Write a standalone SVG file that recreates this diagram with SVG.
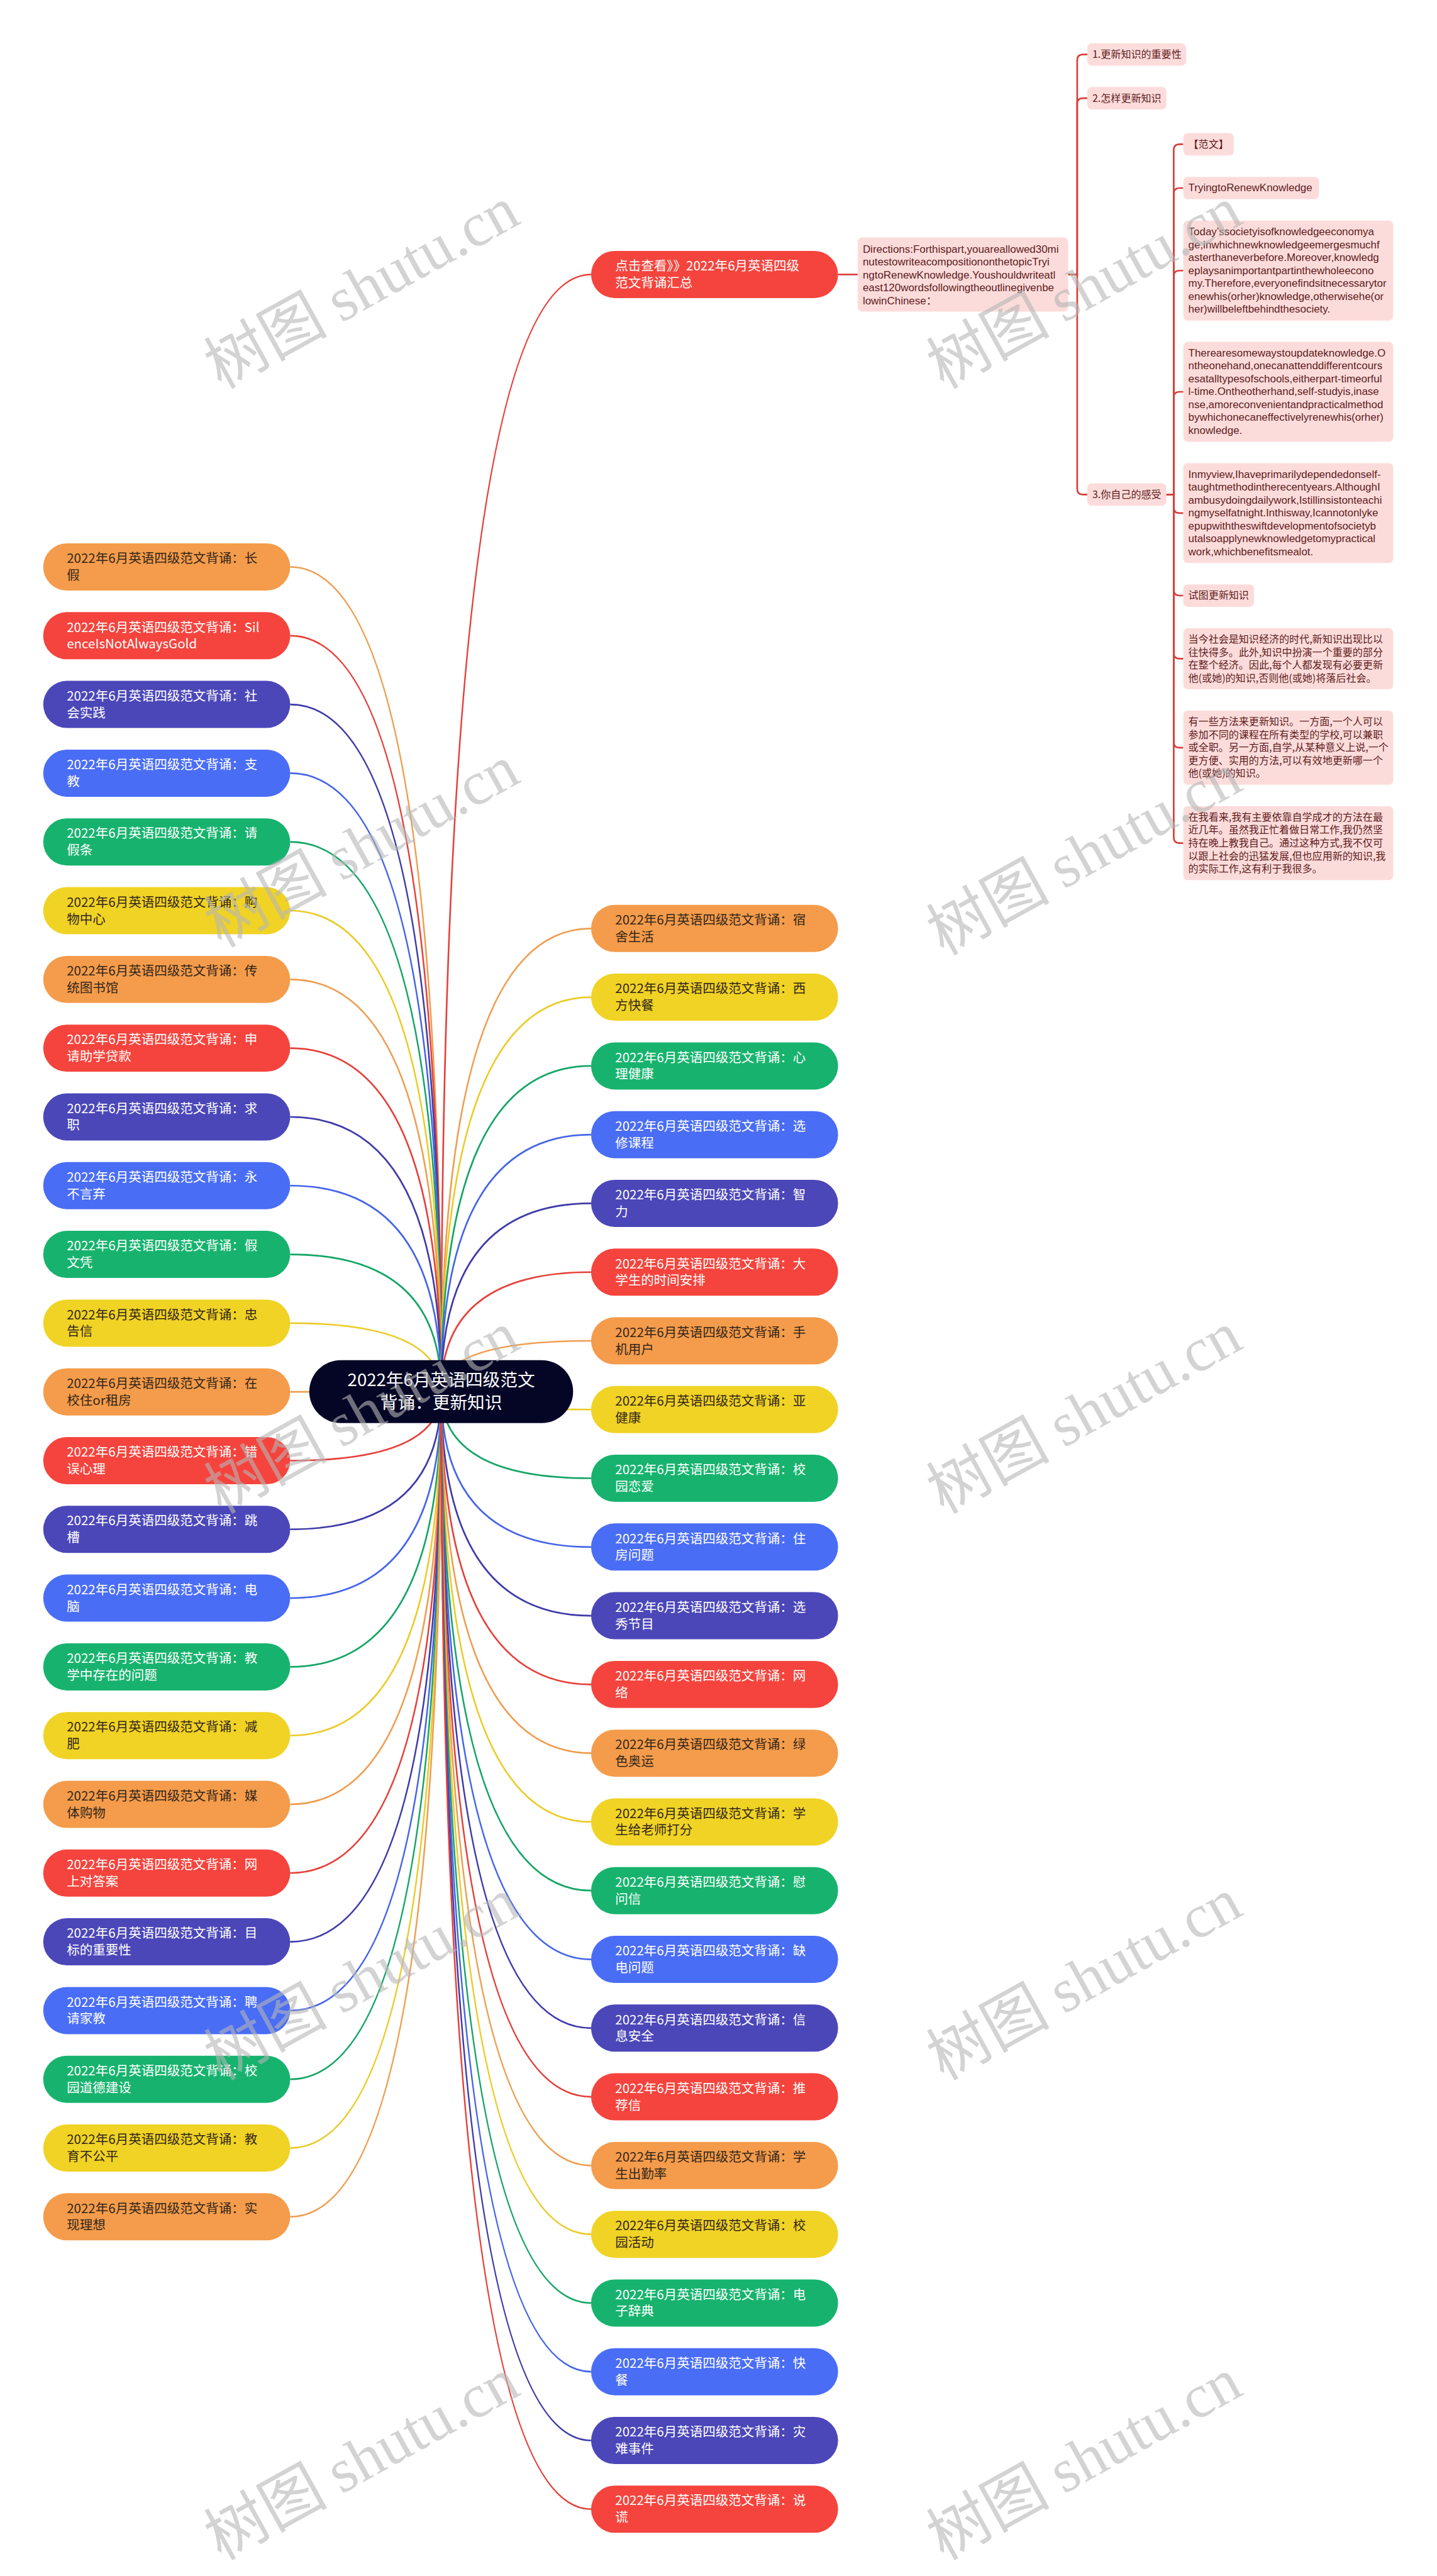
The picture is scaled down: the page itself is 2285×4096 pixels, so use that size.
<svg xmlns="http://www.w3.org/2000/svg" width="2285" height="4096" viewBox="0 0 2285 4096">
<style>
.lbl{font-family:"Noto Sans CJK SC","Liberation Sans",sans-serif;font-size:23px}
.dk{fill:#33261a}
.wt{fill:#ffffff}
.fo{fill:#F49C4B}.fr{fill:#F5443D}.fi{fill:#4B47B8}.fb{fill:#4A6DF5}.fg{fill:#17B36E}.fy{fill:#F0D324}
.cn{fill:none;stroke-width:3}
.so{stroke:#EE9E50}.sr{stroke:#E5403A}.si{stroke:#3F3BA8}.sb{stroke:#4565E8}.sg{stroke:#16A566}.sy{stroke:#EBCB28}
.pb{fill:#FCDCDB}
.pt{fill:#5E1B1B;font-size:18px;font-family:"Noto Sans CJK SC",sans-serif}
.pl{fill:#5E1B1B;font-size:19px;font-family:"Liberation Sans","Noto Sans CJK SC",sans-serif}
.sc{fill:none;stroke:#D8403A;stroke-width:3}
.wm{font-family:"Noto Sans CJK SC",sans-serif;font-size:110px;fill:#b6b6b6;opacity:0.6}
.wms{font-family:"Liberation Serif",serif}
</style>
<rect width="2285" height="4096" fill="#ffffff"/>
<g transform="scale(0.89258)">
<g id="connectors">
<path class="cn sr" d="M1053 489Q786 489 786 2479"/>
<path class="cn so" d="M517 1010Q786 1010 786 2479"/>
<path class="cn sr" d="M517 1132.5Q786 1132.5 786 2479"/>
<path class="cn si" d="M517 1254.9Q786 1254.9 786 2479"/>
<path class="cn sb" d="M517 1377.4Q786 1377.4 786 2479"/>
<path class="cn sg" d="M517 1499.8Q786 1499.8 786 2479"/>
<path class="cn sy" d="M517 1622.3Q786 1622.3 786 2479"/>
<path class="cn so" d="M517 1744.8Q786 1744.8 786 2479"/>
<path class="cn sr" d="M517 1867.2Q786 1867.2 786 2479"/>
<path class="cn si" d="M517 1989.7Q786 1989.7 786 2479"/>
<path class="cn sb" d="M517 2112.1Q786 2112.1 786 2479"/>
<path class="cn sg" d="M517 2234.6Q786 2234.6 786 2479"/>
<path class="cn sy" d="M517 2357.1Q786 2357.1 786 2479"/>
<path class="cn so" d="M517 2479.5Q786 2479.5 786 2479"/>
<path class="cn sr" d="M517 2602Q786 2602 786 2479"/>
<path class="cn si" d="M517 2724.4Q786 2724.4 786 2479"/>
<path class="cn sb" d="M517 2846.9Q786 2846.9 786 2479"/>
<path class="cn sg" d="M517 2969.4Q786 2969.4 786 2479"/>
<path class="cn sy" d="M517 3091.8Q786 3091.8 786 2479"/>
<path class="cn so" d="M517 3214.3Q786 3214.3 786 2479"/>
<path class="cn sr" d="M517 3336.7Q786 3336.7 786 2479"/>
<path class="cn si" d="M517 3459.2Q786 3459.2 786 2479"/>
<path class="cn sb" d="M517 3581.7Q786 3581.7 786 2479"/>
<path class="cn sg" d="M517 3704.1Q786 3704.1 786 2479"/>
<path class="cn sy" d="M517 3826.6Q786 3826.6 786 2479"/>
<path class="cn so" d="M517 3949Q786 3949 786 2479"/>
<path class="cn so" d="M1053 1654Q786 1654 786 2479"/>
<path class="cn sy" d="M1053 1776.4Q786 1776.4 786 2479"/>
<path class="cn sg" d="M1053 1898.9Q786 1898.9 786 2479"/>
<path class="cn sb" d="M1053 2021.3Q786 2021.3 786 2479"/>
<path class="cn si" d="M1053 2143.7Q786 2143.7 786 2479"/>
<path class="cn sr" d="M1053 2266.2Q786 2266.2 786 2479"/>
<path class="cn so" d="M1053 2388.6Q786 2388.6 786 2479"/>
<path class="cn sy" d="M1053 2511Q786 2511 786 2479"/>
<path class="cn sg" d="M1053 2633.4Q786 2633.4 786 2479"/>
<path class="cn sb" d="M1053 2755.9Q786 2755.9 786 2479"/>
<path class="cn si" d="M1053 2878.3Q786 2878.3 786 2479"/>
<path class="cn sr" d="M1053 3000.7Q786 3000.7 786 2479"/>
<path class="cn so" d="M1053 3123.2Q786 3123.2 786 2479"/>
<path class="cn sy" d="M1053 3245.6Q786 3245.6 786 2479"/>
<path class="cn sg" d="M1053 3368Q786 3368 786 2479"/>
<path class="cn sb" d="M1053 3490.5Q786 3490.5 786 2479"/>
<path class="cn si" d="M1053 3612.9Q786 3612.9 786 2479"/>
<path class="cn sr" d="M1053 3735.3Q786 3735.3 786 2479"/>
<path class="cn so" d="M1053 3857.7Q786 3857.7 786 2479"/>
<path class="cn sy" d="M1053 3980.2Q786 3980.2 786 2479"/>
<path class="cn sg" d="M1053 4102.6Q786 4102.6 786 2479"/>
<path class="cn sb" d="M1053 4225Q786 4225 786 2479"/>
<path class="cn si" d="M1053 4347.5Q786 4347.5 786 2479"/>
<path class="cn sr" d="M1053 4469.9Q786 4469.9 786 2479"/>
<path class="sc" d="M1493 489H1528"/>
<path class="sc" d="M1903 489H1919V107Q1919 97 1929 97H1937"/>
<path class="sc" d="M1903 489H1919V185Q1919 175 1929 175H1937"/>
<path class="sc" d="M1903 489H1919V871Q1919 881 1929 881H1937"/>
<path class="sc" d="M2078 881H2091V267Q2091 257 2101 257H2108"/>
<path class="sc" d="M2078 881H2091V345Q2091 335 2101 335H2108"/>
<path class="sc" d="M2078 881H2091V492Q2091 482 2101 482H2108"/>
<path class="sc" d="M2078 881H2091V708Q2091 698 2101 698H2108"/>
<path class="sc" d="M2078 881H2091V904Q2091 914 2101 914H2108"/>
<path class="sc" d="M2078 881H2091V1051Q2091 1061 2101 1061H2108"/>
<path class="sc" d="M2078 881H2091V1163.5Q2091 1173.5 2101 1173.5H2108"/>
<path class="sc" d="M2078 881H2091V1322Q2091 1332 2101 1332H2108"/>
<path class="sc" d="M2078 881H2091V1492Q2091 1502 2101 1502H2108"/>
</g>
<g id="root"><rect x="551" y="2423" width="470" height="112" rx="56" fill="#050626"/><text class="wt" x="786" y="2469" text-anchor="middle" font-family="Noto Sans CJK SC,sans-serif" font-size="31">2022年6月英语四级范文</text><text class="wt" x="786" y="2510" text-anchor="middle" font-family="Noto Sans CJK SC,sans-serif" font-size="31">背诵：更新知识</text></g>
<g id="top-link"><rect class="fr" x="1053" y="447" width="440" height="84" rx="42"/><text class="lbl wt" x="1096" y="482">点击查看》》2022年6月英语四级</text><text class="lbl wt" x="1096" y="512">范文背诵汇总</text></g>
<g id="directions"><rect class="pb" x="1528" y="423" width="375" height="132" rx="8"/><text class="pl" x="1537" y="450">Directions:Forthispart,youareallowed30mi</text><text class="pl" x="1537" y="473">nutestowriteacompositiononthetopicTryi</text><text class="pl" x="1537" y="496">ngtoRenewKnowledge.Youshouldwriteatl</text><text class="pl" x="1537" y="519">east120wordsfollowingtheoutlinegivenbe</text><text class="pl" x="1537" y="542">lowinChinese：</text></g>
<g id="o1"><rect class="pb" x="1937" y="77" width="176" height="40" rx="8"/><text class="pt" x="1946" y="103">1.更新知识的重要性</text></g>
<g id="o2"><rect class="pb" x="1937" y="155" width="141" height="40" rx="8"/><text class="pt" x="1946" y="181">2.怎样更新知识</text></g>
<g id="o3"><rect class="pb" x="1937" y="861" width="141" height="40" rx="8"/><text class="pt" x="1946" y="887">3.你自己的感受</text></g>
<g id="s1"><rect class="pb" x="2108" y="237" width="90" height="40" rx="8"/><text class="pt" x="2117" y="263">【范文】</text></g>
<g id="s2"><rect class="pb" x="2108" y="315" width="242" height="40" rx="8"/><text class="pl" x="2117" y="341">TryingtoRenewKnowledge</text></g>
<g id="s3"><rect class="pb" x="2108" y="393" width="374" height="178" rx="8"/><text class="pl" x="2117" y="419">Today’ssocietyisofknowledgeeconomya</text><text class="pl" x="2117" y="442">ge,inwhichnewknowledgeemergesmuchf</text><text class="pl" x="2117" y="465">asterthaneverbefore.Moreover,knowledg</text><text class="pl" x="2117" y="488">eplaysanimportantpartinthewholeecono</text><text class="pl" x="2117" y="511">my.Therefore,everyonefindsitnecessarytor</text><text class="pl" x="2117" y="534">enewhis(orher)knowledge,otherwisehe(or</text><text class="pl" x="2117" y="557">her)willbeleftbehindthesociety.</text></g>
<g id="s4"><rect class="pb" x="2108" y="609" width="374" height="178" rx="8"/><text class="pl" x="2117" y="635">Therearesomewaystoupdateknowledge.O</text><text class="pl" x="2117" y="658">ntheonehand,onecanattenddifferentcours</text><text class="pl" x="2117" y="681">esatalltypesofschools,eitherpart-timeorful</text><text class="pl" x="2117" y="704">l-time.Ontheotherhand,self-studyis,inase</text><text class="pl" x="2117" y="727">nse,amoreconvenientandpracticalmethod</text><text class="pl" x="2117" y="750">bywhichonecaneffectivelyrenewhis(orher)</text><text class="pl" x="2117" y="773">knowledge.</text></g>
<g id="s5"><rect class="pb" x="2108" y="825" width="374" height="178" rx="8"/><text class="pl" x="2117" y="851">Inmyview,Ihaveprimarilydependedonself-</text><text class="pl" x="2117" y="874">taughtmethodintherecentyears.AlthoughI</text><text class="pl" x="2117" y="897">ambusydoingdailywork,Istillinsistonteachi</text><text class="pl" x="2117" y="920">ngmyselfatnight.Inthisway,Icannotonlyke</text><text class="pl" x="2117" y="943">epupwiththeswiftdevelopmentofsocietyb</text><text class="pl" x="2117" y="966">utalsoapplynewknowledgetomypractical</text><text class="pl" x="2117" y="989">work,whichbenefitsmealot.</text></g>
<g id="s6"><rect class="pb" x="2108" y="1041" width="126" height="40" rx="8"/><text class="pt" x="2117" y="1067">试图更新知识</text></g>
<g id="s7"><rect class="pb" x="2108" y="1119" width="374" height="109" rx="8"/><text class="pt" x="2117" y="1145">当今社会是知识经济的时代,新知识出现比以</text><text class="pt" x="2117" y="1168">往快得多。此外,知识中扮演一个重要的部分</text><text class="pt" x="2117" y="1191">在整个经济。因此,每个人都发现有必要更新</text><text class="pt" x="2117" y="1214">他(或她)的知识,否则他(或她)将落后社会。</text></g>
<g id="s8"><rect class="pb" x="2108" y="1266" width="374" height="132" rx="8"/><text class="pt" x="2117" y="1292">有一些方法来更新知识。一方面,一个人可以</text><text class="pt" x="2117" y="1315">参加不同的课程在所有类型的学校,可以兼职</text><text class="pt" x="2117" y="1338">或全职。另一方面,自学,从某种意义上说,一个</text><text class="pt" x="2117" y="1361">更方便、实用的方法,可以有效地更新哪一个</text><text class="pt" x="2117" y="1384">他(或她)的知识。</text></g>
<g id="s9"><rect class="pb" x="2108" y="1436" width="374" height="132" rx="8"/><text class="pt" x="2117" y="1462">在我看来,我有主要依靠自学成才的方法在最</text><text class="pt" x="2117" y="1485">近几年。虽然我正忙着做日常工作,我仍然坚</text><text class="pt" x="2117" y="1508">持在晚上教我自己。通过这种方式,我不仅可</text><text class="pt" x="2117" y="1531">以跟上社会的迅猛发展,但也应用新的知识,我</text><text class="pt" x="2117" y="1554">的实际工作,这有利于我很多。</text></g>
<g id="L01"><rect class="fo" x="77" y="968" width="440" height="84" rx="42"/><text class="lbl dk" x="119" y="1003">2022年6月英语四级范文背诵：长</text><text class="lbl dk" x="119" y="1033">假</text></g>
<g id="L02"><rect class="fr" x="77" y="1090.5" width="440" height="84" rx="42"/><text class="lbl wt" x="119" y="1125.5">2022年6月英语四级范文背诵：Sil</text><text class="lbl wt" x="119" y="1155.5">enceIsNotAlwaysGold</text></g>
<g id="L03"><rect class="fi" x="77" y="1212.9" width="440" height="84" rx="42"/><text class="lbl wt" x="119" y="1247.9">2022年6月英语四级范文背诵：社</text><text class="lbl wt" x="119" y="1277.9">会实践</text></g>
<g id="L04"><rect class="fb" x="77" y="1335.4" width="440" height="84" rx="42"/><text class="lbl wt" x="119" y="1370.4">2022年6月英语四级范文背诵：支</text><text class="lbl wt" x="119" y="1400.4">教</text></g>
<g id="L05"><rect class="fg" x="77" y="1457.8" width="440" height="84" rx="42"/><text class="lbl wt" x="119" y="1492.8">2022年6月英语四级范文背诵：请</text><text class="lbl wt" x="119" y="1522.8">假条</text></g>
<g id="L06"><rect class="fy" x="77" y="1580.3" width="440" height="84" rx="42"/><text class="lbl dk" x="119" y="1615.3">2022年6月英语四级范文背诵：购</text><text class="lbl dk" x="119" y="1645.3">物中心</text></g>
<g id="L07"><rect class="fo" x="77" y="1702.8" width="440" height="84" rx="42"/><text class="lbl dk" x="119" y="1737.8">2022年6月英语四级范文背诵：传</text><text class="lbl dk" x="119" y="1767.8">统图书馆</text></g>
<g id="L08"><rect class="fr" x="77" y="1825.2" width="440" height="84" rx="42"/><text class="lbl wt" x="119" y="1860.2">2022年6月英语四级范文背诵：申</text><text class="lbl wt" x="119" y="1890.2">请助学贷款</text></g>
<g id="L09"><rect class="fi" x="77" y="1947.7" width="440" height="84" rx="42"/><text class="lbl wt" x="119" y="1982.7">2022年6月英语四级范文背诵：求</text><text class="lbl wt" x="119" y="2012.7">职</text></g>
<g id="L10"><rect class="fb" x="77" y="2070.1" width="440" height="84" rx="42"/><text class="lbl wt" x="119" y="2105.1">2022年6月英语四级范文背诵：永</text><text class="lbl wt" x="119" y="2135.1">不言弃</text></g>
<g id="L11"><rect class="fg" x="77" y="2192.6" width="440" height="84" rx="42"/><text class="lbl wt" x="119" y="2227.6">2022年6月英语四级范文背诵：假</text><text class="lbl wt" x="119" y="2257.6">文凭</text></g>
<g id="L12"><rect class="fy" x="77" y="2315.1" width="440" height="84" rx="42"/><text class="lbl dk" x="119" y="2350.1">2022年6月英语四级范文背诵：忠</text><text class="lbl dk" x="119" y="2380.1">告信</text></g>
<g id="L13"><rect class="fo" x="77" y="2437.5" width="440" height="84" rx="42"/><text class="lbl dk" x="119" y="2472.5">2022年6月英语四级范文背诵：在</text><text class="lbl dk" x="119" y="2502.5">校住or租房</text></g>
<g id="L14"><rect class="fr" x="77" y="2560" width="440" height="84" rx="42"/><text class="lbl wt" x="119" y="2595">2022年6月英语四级范文背诵：错</text><text class="lbl wt" x="119" y="2625">误心理</text></g>
<g id="L15"><rect class="fi" x="77" y="2682.4" width="440" height="84" rx="42"/><text class="lbl wt" x="119" y="2717.4">2022年6月英语四级范文背诵：跳</text><text class="lbl wt" x="119" y="2747.4">槽</text></g>
<g id="L16"><rect class="fb" x="77" y="2804.9" width="440" height="84" rx="42"/><text class="lbl wt" x="119" y="2839.9">2022年6月英语四级范文背诵：电</text><text class="lbl wt" x="119" y="2869.9">脑</text></g>
<g id="L17"><rect class="fg" x="77" y="2927.4" width="440" height="84" rx="42"/><text class="lbl wt" x="119" y="2962.4">2022年6月英语四级范文背诵：教</text><text class="lbl wt" x="119" y="2992.4">学中存在的问题</text></g>
<g id="L18"><rect class="fy" x="77" y="3049.8" width="440" height="84" rx="42"/><text class="lbl dk" x="119" y="3084.8">2022年6月英语四级范文背诵：减</text><text class="lbl dk" x="119" y="3114.8">肥</text></g>
<g id="L19"><rect class="fo" x="77" y="3172.3" width="440" height="84" rx="42"/><text class="lbl dk" x="119" y="3207.3">2022年6月英语四级范文背诵：媒</text><text class="lbl dk" x="119" y="3237.3">体购物</text></g>
<g id="L20"><rect class="fr" x="77" y="3294.7" width="440" height="84" rx="42"/><text class="lbl wt" x="119" y="3329.7">2022年6月英语四级范文背诵：网</text><text class="lbl wt" x="119" y="3359.7">上对答案</text></g>
<g id="L21"><rect class="fi" x="77" y="3417.2" width="440" height="84" rx="42"/><text class="lbl wt" x="119" y="3452.2">2022年6月英语四级范文背诵：目</text><text class="lbl wt" x="119" y="3482.2">标的重要性</text></g>
<g id="L22"><rect class="fb" x="77" y="3539.7" width="440" height="84" rx="42"/><text class="lbl wt" x="119" y="3574.7">2022年6月英语四级范文背诵：聘</text><text class="lbl wt" x="119" y="3604.7">请家教</text></g>
<g id="L23"><rect class="fg" x="77" y="3662.1" width="440" height="84" rx="42"/><text class="lbl wt" x="119" y="3697.1">2022年6月英语四级范文背诵：校</text><text class="lbl wt" x="119" y="3727.1">园道德建设</text></g>
<g id="L24"><rect class="fy" x="77" y="3784.6" width="440" height="84" rx="42"/><text class="lbl dk" x="119" y="3819.6">2022年6月英语四级范文背诵：教</text><text class="lbl dk" x="119" y="3849.6">育不公平</text></g>
<g id="L25"><rect class="fo" x="77" y="3907" width="440" height="84" rx="42"/><text class="lbl dk" x="119" y="3942">2022年6月英语四级范文背诵：实</text><text class="lbl dk" x="119" y="3972">现理想</text></g>
<g id="R01"><rect class="fo" x="1053" y="1612" width="440" height="84" rx="42"/><text class="lbl dk" x="1096" y="1647">2022年6月英语四级范文背诵：宿</text><text class="lbl dk" x="1096" y="1677">舍生活</text></g>
<g id="R02"><rect class="fy" x="1053" y="1734.4" width="440" height="84" rx="42"/><text class="lbl dk" x="1096" y="1769.4">2022年6月英语四级范文背诵：西</text><text class="lbl dk" x="1096" y="1799.4">方快餐</text></g>
<g id="R03"><rect class="fg" x="1053" y="1856.9" width="440" height="84" rx="42"/><text class="lbl wt" x="1096" y="1891.9">2022年6月英语四级范文背诵：心</text><text class="lbl wt" x="1096" y="1921.9">理健康</text></g>
<g id="R04"><rect class="fb" x="1053" y="1979.3" width="440" height="84" rx="42"/><text class="lbl wt" x="1096" y="2014.3">2022年6月英语四级范文背诵：选</text><text class="lbl wt" x="1096" y="2044.3">修课程</text></g>
<g id="R05"><rect class="fi" x="1053" y="2101.7" width="440" height="84" rx="42"/><text class="lbl wt" x="1096" y="2136.7">2022年6月英语四级范文背诵：智</text><text class="lbl wt" x="1096" y="2166.7">力</text></g>
<g id="R06"><rect class="fr" x="1053" y="2224.2" width="440" height="84" rx="42"/><text class="lbl wt" x="1096" y="2259.2">2022年6月英语四级范文背诵：大</text><text class="lbl wt" x="1096" y="2289.2">学生的时间安排</text></g>
<g id="R07"><rect class="fo" x="1053" y="2346.6" width="440" height="84" rx="42"/><text class="lbl dk" x="1096" y="2381.6">2022年6月英语四级范文背诵：手</text><text class="lbl dk" x="1096" y="2411.6">机用户</text></g>
<g id="R08"><rect class="fy" x="1053" y="2469" width="440" height="84" rx="42"/><text class="lbl dk" x="1096" y="2504">2022年6月英语四级范文背诵：亚</text><text class="lbl dk" x="1096" y="2534">健康</text></g>
<g id="R09"><rect class="fg" x="1053" y="2591.4" width="440" height="84" rx="42"/><text class="lbl wt" x="1096" y="2626.4">2022年6月英语四级范文背诵：校</text><text class="lbl wt" x="1096" y="2656.4">园恋爱</text></g>
<g id="R10"><rect class="fb" x="1053" y="2713.9" width="440" height="84" rx="42"/><text class="lbl wt" x="1096" y="2748.9">2022年6月英语四级范文背诵：住</text><text class="lbl wt" x="1096" y="2778.9">房问题</text></g>
<g id="R11"><rect class="fi" x="1053" y="2836.3" width="440" height="84" rx="42"/><text class="lbl wt" x="1096" y="2871.3">2022年6月英语四级范文背诵：选</text><text class="lbl wt" x="1096" y="2901.3">秀节目</text></g>
<g id="R12"><rect class="fr" x="1053" y="2958.7" width="440" height="84" rx="42"/><text class="lbl wt" x="1096" y="2993.7">2022年6月英语四级范文背诵：网</text><text class="lbl wt" x="1096" y="3023.7">络</text></g>
<g id="R13"><rect class="fo" x="1053" y="3081.2" width="440" height="84" rx="42"/><text class="lbl dk" x="1096" y="3116.2">2022年6月英语四级范文背诵：绿</text><text class="lbl dk" x="1096" y="3146.2">色奥运</text></g>
<g id="R14"><rect class="fy" x="1053" y="3203.6" width="440" height="84" rx="42"/><text class="lbl dk" x="1096" y="3238.6">2022年6月英语四级范文背诵：学</text><text class="lbl dk" x="1096" y="3268.6">生给老师打分</text></g>
<g id="R15"><rect class="fg" x="1053" y="3326" width="440" height="84" rx="42"/><text class="lbl wt" x="1096" y="3361">2022年6月英语四级范文背诵：慰</text><text class="lbl wt" x="1096" y="3391">问信</text></g>
<g id="R16"><rect class="fb" x="1053" y="3448.5" width="440" height="84" rx="42"/><text class="lbl wt" x="1096" y="3483.5">2022年6月英语四级范文背诵：缺</text><text class="lbl wt" x="1096" y="3513.5">电问题</text></g>
<g id="R17"><rect class="fi" x="1053" y="3570.9" width="440" height="84" rx="42"/><text class="lbl wt" x="1096" y="3605.9">2022年6月英语四级范文背诵：信</text><text class="lbl wt" x="1096" y="3635.9">息安全</text></g>
<g id="R18"><rect class="fr" x="1053" y="3693.3" width="440" height="84" rx="42"/><text class="lbl wt" x="1096" y="3728.3">2022年6月英语四级范文背诵：推</text><text class="lbl wt" x="1096" y="3758.3">荐信</text></g>
<g id="R19"><rect class="fo" x="1053" y="3815.7" width="440" height="84" rx="42"/><text class="lbl dk" x="1096" y="3850.7">2022年6月英语四级范文背诵：学</text><text class="lbl dk" x="1096" y="3880.7">生出勤率</text></g>
<g id="R20"><rect class="fy" x="1053" y="3938.2" width="440" height="84" rx="42"/><text class="lbl dk" x="1096" y="3973.2">2022年6月英语四级范文背诵：校</text><text class="lbl dk" x="1096" y="4003.2">园活动</text></g>
<g id="R21"><rect class="fg" x="1053" y="4060.6" width="440" height="84" rx="42"/><text class="lbl wt" x="1096" y="4095.6">2022年6月英语四级范文背诵：电</text><text class="lbl wt" x="1096" y="4125.6">子辞典</text></g>
<g id="R22"><rect class="fb" x="1053" y="4183" width="440" height="84" rx="42"/><text class="lbl wt" x="1096" y="4218">2022年6月英语四级范文背诵：快</text><text class="lbl wt" x="1096" y="4248">餐</text></g>
<g id="R23"><rect class="fi" x="1053" y="4305.5" width="440" height="84" rx="42"/><text class="lbl wt" x="1096" y="4340.5">2022年6月英语四级范文背诵：灾</text><text class="lbl wt" x="1096" y="4370.5">难事件</text></g>
<g id="R24"><rect class="fr" x="1053" y="4427.9" width="440" height="84" rx="42"/><text class="lbl wt" x="1096" y="4462.9">2022年6月英语四级范文背诵：说</text><text class="lbl wt" x="1096" y="4492.9">谎</text></g>
<g id="watermarks">
<text class="wm" transform="translate(644 512) rotate(-29)" text-anchor="middle" y="38">树图 <tspan class="wms">shutu.cn</tspan></text>
<text class="wm" transform="translate(1931 512) rotate(-29)" text-anchor="middle" y="38">树图 <tspan class="wms">shutu.cn</tspan></text>
<text class="wm" transform="translate(644 1507) rotate(-29)" text-anchor="middle" y="38">树图 <tspan class="wms">shutu.cn</tspan></text>
<text class="wm" transform="translate(1931 1521) rotate(-29)" text-anchor="middle" y="38">树图 <tspan class="wms">shutu.cn</tspan></text>
<text class="wm" transform="translate(644 2516) rotate(-29)" text-anchor="middle" y="38">树图 <tspan class="wms">shutu.cn</tspan></text>
<text class="wm" transform="translate(1931 2516) rotate(-29)" text-anchor="middle" y="38">树图 <tspan class="wms">shutu.cn</tspan></text>
<text class="wm" transform="translate(644 3525) rotate(-29)" text-anchor="middle" y="38">树图 <tspan class="wms">shutu.cn</tspan></text>
<text class="wm" transform="translate(1931 3525) rotate(-29)" text-anchor="middle" y="38">树图 <tspan class="wms">shutu.cn</tspan></text>
<text class="wm" transform="translate(644 4380) rotate(-29)" text-anchor="middle" y="38">树图 <tspan class="wms">shutu.cn</tspan></text>
<text class="wm" transform="translate(1931 4380) rotate(-29)" text-anchor="middle" y="38">树图 <tspan class="wms">shutu.cn</tspan></text>
</g>
</g>
</svg>
